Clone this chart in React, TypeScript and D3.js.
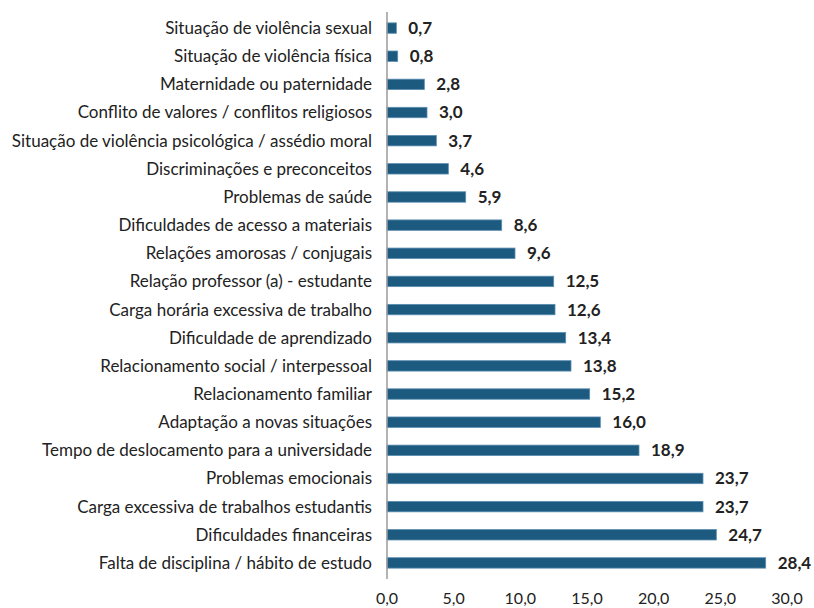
import { useMemo } from "react";
import * as d3 from "d3";

const categories = [
  "Situação de violência sexual",
  "Situação de violência física",
  "Maternidade ou paternidade",
  "Conflito de valores / conflitos religiosos",
  "Situação de violência psicológica / assédio moral",
  "Discriminações e preconceitos",
  "Problemas de saúde",
  "Dificuldades de acesso a materiais",
  "Relações amorosas / conjugais",
  "Relação professor (a) - estudante",
  "Carga horária excessiva de trabalho",
  "Dificuldade de aprendizado",
  "Relacionamento social / interpessoal",
  "Relacionamento familiar",
  "Adaptação a novas situações",
  "Tempo de deslocamento para a universidade",
  "Problemas emocionais",
  "Carga excessiva de trabalhos estudantis",
  "Dificuldades financeiras",
  "Falta de disciplina / hábito de estudo",
];

const values = [
  0.7, 0.8, 2.8, 3.0, 3.7, 4.6, 5.9, 8.6, 9.6, 12.5, 12.6, 13.4, 13.8, 15.2,
  16.0, 18.9, 23.7, 23.7, 24.7, 28.4,
];

const xTicks = [0, 5, 10, 15, 20, 25, 30];

const ptBR = d3.formatLocale({
  decimal: ",",
  thousands: ".",
  grouping: [3],
  currency: ["R$", ""],
});
const fmt = ptBR.format(".1f");

const W = 814;
const H = 608;
const FONT = "Lato, 'Open Sans', sans-serif";

export default function App() {
  const x = useMemo(() => d3.scaleLinear().domain([0, 30]).range([387, 787]), []);
  const y = useMemo(
    () =>
      d3
        .scaleBand<string>()
        .domain(categories)
        .range([14, 577])
        .paddingInner(0.63)
        .paddingOuter(0.315),
    []
  );

  const bw = y.bandwidth();

  return (
    <svg
      width={W}
      height={H}
      style={{ position: "absolute", left: 0, top: 0, background: "#fff" }}
      fontFamily={FONT}
    >
      {/* category labels */}
      {categories.map((c) => (
        <text
          key={`lab-${c}`}
          x={372}
          y={(y(c) ?? 0) + bw / 2}
          dy="0.35em"
          textAnchor="end"
          fontSize={17}
          fill="#222"
        >
          {c}
        </text>
      ))}

      {/* bars */}
      {categories.map((c, i) => (
        <rect
          key={`bar-${c}`}
          x={x(0)}
          y={y(c)}
          width={x(values[i]) - x(0)}
          height={bw}
          fill="#1d5a80"
          stroke="#5a8db0"
          strokeWidth={0.8}
        />
      ))}

      {/* value labels */}
      {categories.map((c, i) => (
        <text
          key={`val-${c}`}
          x={x(values[i]) + 12}
          y={(y(c) ?? 0) + bw / 2}
          dy="0.35em"
          fontSize={17}
          fontWeight="bold"
          fill="#222"
        >
          {fmt(values[i])}
        </text>
      ))}

      {/* axis line */}
      <line x1={x(0)} x2={x(0)} y1={12} y2={579} stroke="#9a9a9a" strokeWidth={1.5} />

      {/* tick labels */}
      {xTicks.map((t) => (
        <text
          key={`tick-${t}`}
          x={x(t)}
          y={598}
          dy="0.35em"
          textAnchor="middle"
          fontSize={16}
          fill="#222"
        >
          {fmt(t)}
        </text>
      ))}
    </svg>
  );
}
